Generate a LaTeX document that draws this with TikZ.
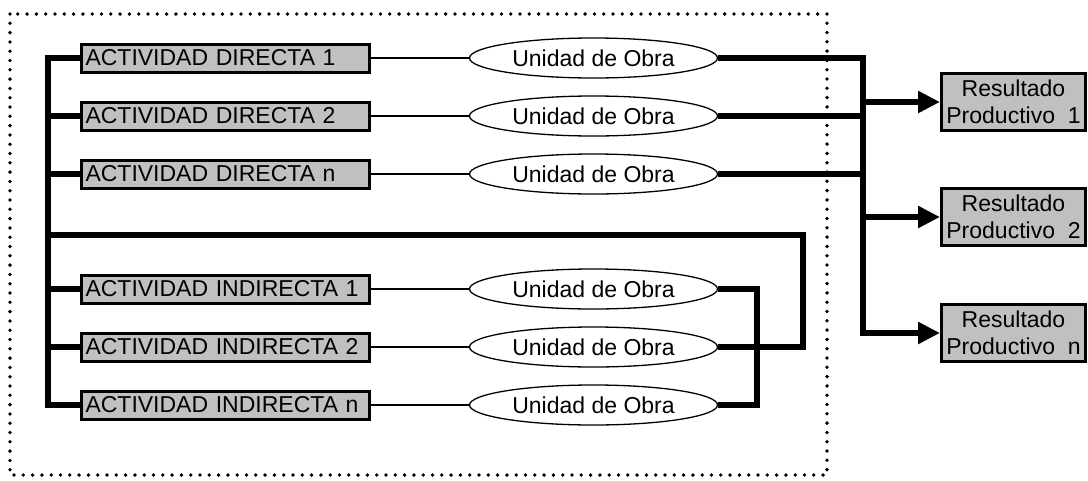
\documentclass[tikz,border=0pt]{standalone}
\usepackage{fontspec}
\setmainfont{Liberation Sans}
\usetikzlibrary{arrows.meta,shapes.geometric}
\definecolor{boxgray}{RGB}{192,192,192}
\begin{document}
\begin{tikzpicture}[x=1pt,y=-1pt,
  txt/.style={font=\fontsize{23}{27}\selectfont},
  act/.style={txt, draw, line width=3pt, fill=boxgray, minimum width=288pt, minimum height=28pt,
              text width=280pt, align=left, inner xsep=4pt, inner ysep=0pt},
  unit/.style={txt, draw, ellipse, line width=1.3pt, fill=white, minimum width=248pt, minimum height=40pt, inner sep=0pt},
  res/.style={txt, draw, line width=3pt, fill=boxgray, minimum width=144pt, minimum height=57pt,
              align=center, inner sep=0pt},
  heavy/.style={line width=6pt},
  fine/.style={line width=1.3pt},
  border/.style={line width=3.8pt, line cap=round, dash pattern=on 0pt off 9.3pt},
  arr/.style={heavy, -{Triangle[length=22pt,width=21pt]}}
]
\useasboundingbox (0,0) rectangle (1088,480);
\draw[border] (10,14) rectangle (827,475);

\node[act] (a1) at (225.5,58) {ACTIVIDAD DIRECTA 1};
\node[act] (a2) at (225.5,116) {ACTIVIDAD DIRECTA 2};
\node[act] (a3) at (225.5,174) {ACTIVIDAD DIRECTA n};
\node[act] (i1) at (225.5,289) {ACTIVIDAD INDIRECTA 1};
\node[act] (i2) at (225.5,347) {ACTIVIDAD INDIRECTA 2};
\node[act] (i3) at (225.5,405) {ACTIVIDAD INDIRECTA n};

\node[unit] (u1) at (593.5,58) {Unidad de Obra};
\node[unit] (u2) at (593.5,116) {Unidad de Obra};
\node[unit] (u3) at (593.5,174) {Unidad de Obra};
\node[unit] (u4) at (593.5,289) {Unidad de Obra};
\node[unit] (u5) at (593.5,347) {Unidad de Obra};
\node[unit] (u6) at (593.5,405) {Unidad de Obra};

\node[res] (r1) at (1013.5,102) {Resultado\\Productivo\ \ 1};
\node[res] (r2) at (1013.5,217) {Resultado\\Productivo\ \ 2};
\node[res] (r3) at (1013.5,333) {Resultado\\Productivo\ \ n};

\coordinate (lb) at (48,0);
\coordinate (ib) at (757,0);
\coordinate (loop) at (803,235);
\coordinate (rb) at (863,0);

% thin links
\draw[fine] (a1.east) -- (u1.west);
\draw[fine] (a2.east) -- (u2.west);
\draw[fine] (a3.east) -- (u3.west);
\draw[fine] (i1.east) -- (u4.west);
\draw[fine] (i2.east) -- (u5.west);
\draw[fine] (i3.east) -- (u6.west);

% left bus
\draw[heavy] (a1.west) -| (lb |- i3.west) -- (i3.west);
\draw[heavy] (lb |- a2.west) -- (a2.west);
\draw[heavy] (lb |- a3.west) -- (a3.west);
\draw[heavy] (lb |- i1.west) -- (i1.west);
\draw[heavy] (lb |- i2.west) -- (i2.west);

% indirect loop
\draw[heavy] (u4.east) -| (ib |- u6.east) -- (u6.east);
\draw[heavy] (u5.east) -| (loop) -- (lb |- loop);

% right bus and arrows
\draw[heavy] (u1.east) -| (rb |- r3.west);
\draw[heavy] (u2.east) -- (rb |- u2.east);
\draw[heavy] (u3.east) -- (rb |- u3.east);
\draw[arr] (rb |- r1.west) -- (r1.west);
\draw[arr] (rb |- r2.west) -- (r2.west);
\draw[arr] ([xshift=-3pt]rb |- r3.west) -- (r3.west);
\end{tikzpicture}
\end{document}
